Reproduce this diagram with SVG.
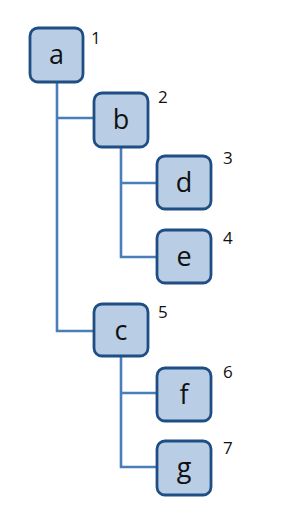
<svg xmlns="http://www.w3.org/2000/svg" width="289" height="517" viewBox="0 0 289 517">
<style>
.box{fill:#b9cde5;stroke:#1f4e85;stroke-width:2.8}
.lbl{font-family:"Open Sans","Noto Sans",sans-serif;font-size:27px;fill:#111;text-anchor:middle}
.num{font-family:"Open Sans","Noto Sans",sans-serif;font-size:17px;fill:#111}
.ln{fill:none;stroke:#4a7ebb;stroke-width:2.6}
</style>
<rect width="289" height="517" fill="#fff"/>
<g id="connectors">
<path class="ln" d="M57,82 V331 H93"/>
<path class="ln" d="M57,118 H93"/>
<path class="ln" d="M121,147 V257 H157"/>
<path class="ln" d="M121,183 H157"/>
<path class="ln" d="M121,356 V467 H157"/>
<path class="ln" d="M121,393 H157"/>
</g>
<g id="node-a"><rect class="box" x="30" y="28" width="53" height="54" rx="8"/><text class="lbl" x="56.5" y="64">a</text><text class="num" x="91" y="44">1</text></g>
<g id="node-b"><rect class="box" x="94" y="93" width="54" height="54" rx="8"/><text class="lbl" x="121" y="129">b</text><text class="num" x="158" y="103">2</text></g>
<g id="node-d"><rect class="box" x="157" y="156" width="54" height="53" rx="8"/><text class="lbl" x="184" y="192">d</text><text class="num" x="223" y="164">3</text></g>
<g id="node-e"><rect class="box" x="157" y="230" width="54" height="53" rx="8"/><text class="lbl" x="184" y="266">e</text><text class="num" x="223" y="244">4</text></g>
<g id="node-c"><rect class="box" x="94" y="304" width="54" height="52" rx="8"/><text class="lbl" x="121" y="340">c</text><text class="num" x="158" y="318">5</text></g>
<g id="node-f"><rect class="box" x="157" y="368" width="54" height="53" rx="8"/><text class="lbl" x="184" y="404">f</text><text class="num" x="223" y="378">6</text></g>
<g id="node-g"><rect class="box" x="157" y="441" width="54" height="54" rx="8"/><text class="lbl" x="184" y="477">g</text><text class="num" x="223" y="454">7</text></g>
</svg>
